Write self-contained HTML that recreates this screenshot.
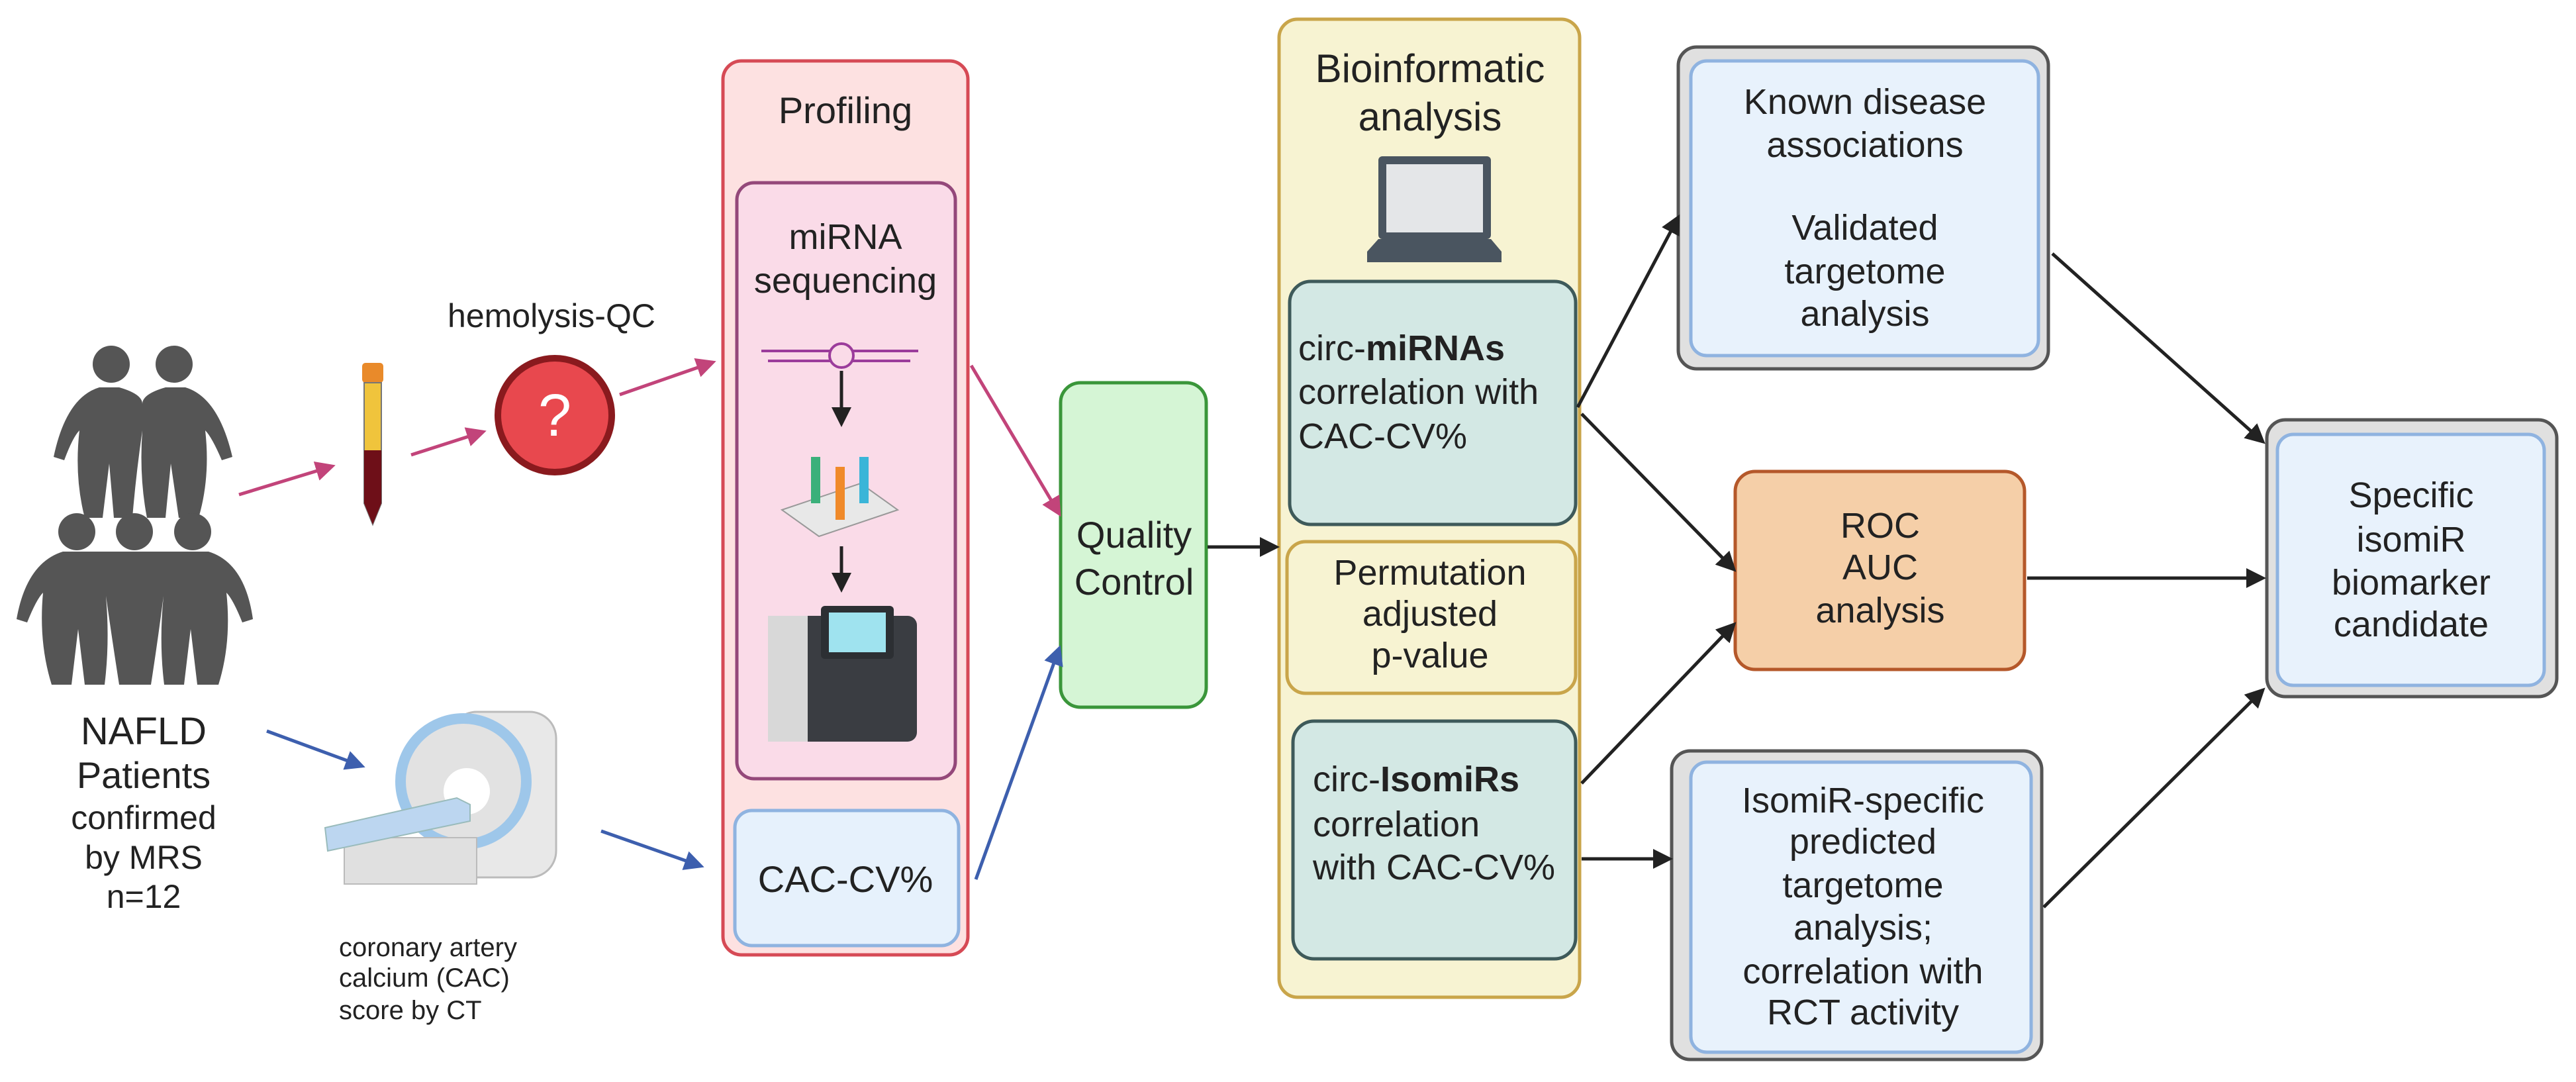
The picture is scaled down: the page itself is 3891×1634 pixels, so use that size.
<!DOCTYPE html>
<html><head><meta charset="utf-8"><style>
html,body{margin:0;padding:0;background:#fff}
svg{display:block}
text{font-family:"Liberation Sans",sans-serif;fill:#222}
</style></head><body>
<svg width="3891" height="1634" viewBox="0 0 3891 1634" xmlns="http://www.w3.org/2000/svg">
<defs>
<marker id="ap" markerWidth="6" markerHeight="6" refX="5" refY="3" orient="auto" markerUnits="strokeWidth"><path d="M0,0 L6,3 L0,6 z" fill="#c2447a"/></marker>
<marker id="ab" markerWidth="6" markerHeight="6" refX="5" refY="3" orient="auto" markerUnits="strokeWidth"><path d="M0,0 L6,3 L0,6 z" fill="#3d5fae"/></marker>
<marker id="ak" markerWidth="6" markerHeight="6" refX="5" refY="3" orient="auto" markerUnits="strokeWidth"><path d="M0,0 L6,3 L0,6 z" fill="#222"/></marker>
</defs>

<!-- people -->
<g fill="#555">
<circle cx="168" cy="550" r="28"/><circle cx="263" cy="550" r="28"/>
<path d="M81,690 Q100,600 150,585 L180,585 Q215,595 215,610 Q215,595 250,585 L280,585 Q330,600 351,690 L335,695 Q320,660 310,650 Q318,720 300,782 L270,782 L258,700 L250,782 L222,782 Q210,720 215,650 Q205,720 200,782 L172,782 L165,700 L155,782 L128,782 Q112,720 120,650 Q110,660 97,695 z"/>
<circle cx="116" cy="803" r="28"/><circle cx="203" cy="803" r="28"/><circle cx="291" cy="803" r="28"/>
<path d="M25,935 Q40,850 95,833 L315,833 Q370,850 382,935 L366,940 Q352,905 342,895 Q350,970 330,1034 L298,1034 L288,950 L278,1034 L248,1034 Q240,970 247,900 Q238,970 228,1034 L180,1034 Q170,970 160,900 Q166,970 158,1034 L128,1034 L118,950 L108,1034 L78,1034 Q58,970 65,895 Q55,905 41,940 z"/>
</g>
<g text-anchor="middle">
<text x="217" y="1124" font-size="58">NAFLD</text>
<text x="217" y="1190" font-size="56">Patients</text>
<text x="217" y="1252" font-size="50">confirmed</text>
<text x="217" y="1312" font-size="50">by MRS</text>
<text x="217" y="1371" font-size="50">n=12</text>
</g>

<!-- tube -->
<rect x="547" y="548" width="32" height="30" rx="5" fill="#e98a2a"/>
<path d="M550,578 L576,578 L576,760 L563,792 L550,760 z" fill="#f0c43c" stroke="#777" stroke-width="2"/>
<path d="M550,680 L576,680 L576,760 L563,792 L550,760 z" fill="#6e0f18"/>

<!-- question -->
<circle cx="838" cy="627" r="86" fill="#e8484e" stroke="#8a1a1e" stroke-width="10"/>
<text x="838" y="658" font-size="90" text-anchor="middle" style="fill:#fff">?</text>
<text x="833" y="494" font-size="50" text-anchor="middle">hemolysis-QC</text>

<!-- CT scanner -->
<g>
<rect x="680" y="1075" width="160" height="250" rx="40" fill="#e8e8e8" stroke="#bbb" stroke-width="3"/>
<circle cx="700" cy="1180" r="95" fill="#e2e2e2" stroke="#9ec7ea" stroke-width="16"/>
<circle cx="705" cy="1195" r="35" fill="#fff"/>
<rect x="520" y="1265" width="200" height="70" fill="#e0e0e0" stroke="#bbb" stroke-width="2"/>
<path d="M491,1250 L690,1205 L710,1215 L710,1240 L495,1285 z" fill="#bcd6f0" stroke="#9bb" stroke-width="2"/>
</g>
<g font-size="40">
<text x="512" y="1444">coronary artery</text>
<text x="512" y="1490">calcium (CAC)</text>
<text x="512" y="1539">score by CT</text>
</g>

<!-- Profiling -->
<rect x="1092" y="92" width="370" height="1350" rx="28" fill="#fde1e1" stroke="#d64a55" stroke-width="5"/>
<text x="1277" y="186" font-size="56" text-anchor="middle">Profiling</text>
<rect x="1113" y="276" width="330" height="900" rx="26" fill="#fadbe8" stroke="#94487a" stroke-width="5"/>
<text x="1277" y="376" font-size="54" text-anchor="middle">miRNA</text>
<text x="1277" y="442" font-size="54" text-anchor="middle">sequencing</text>
<g stroke="#9b3c9b" stroke-width="4">
<line x1="1150" y1="530" x2="1387" y2="530"/><line x1="1160" y1="545" x2="1375" y2="545"/>
<circle cx="1271" cy="537" r="18" fill="#fadbe8"/>
</g>
<line x1="1271" y1="560" x2="1271" y2="640" stroke="#222" stroke-width="5" marker-end="url(#ak)"/>
<path d="M1181,770 L1300,730 L1356,770 L1237,810 z" fill="#e8e8e8" stroke="#999" stroke-width="2"/>
<rect x="1225" y="690" width="14" height="70" fill="#3ab07a"/><rect x="1262" y="705" width="14" height="80" fill="#f08a2a"/><rect x="1298" y="690" width="14" height="70" fill="#3ab5d8"/>
<line x1="1271" y1="825" x2="1271" y2="890" stroke="#222" stroke-width="5" marker-end="url(#ak)"/>
<rect x="1160" y="930" width="225" height="190" rx="14" fill="#3a3d42"/>
<rect x="1160" y="930" width="60" height="190" fill="#d8d8d8"/>
<rect x="1240" y="915" width="110" height="80" rx="6" fill="#2c2f33"/><rect x="1252" y="925" width="86" height="60" fill="#9fe3ef"/>
<rect x="1110" y="1224" width="338" height="204" rx="26" fill="#e6f1fc" stroke="#8fb3e0" stroke-width="5"/>
<text x="1277" y="1347" font-size="56" text-anchor="middle">CAC-CV%</text>

<!-- QC -->
<rect x="1602" y="578" width="220" height="490" rx="30" fill="#d5f5d5" stroke="#3a963a" stroke-width="5"/>
<text x="1713" y="827" font-size="56" text-anchor="middle">Quality</text>
<text x="1713" y="898" font-size="56" text-anchor="middle">Control</text>

<!-- Bioinformatic -->
<rect x="1932" y="29" width="454" height="1477" rx="28" fill="#f7f3d2" stroke="#c9a54a" stroke-width="5"/>
<text x="2160" y="124" font-size="60" text-anchor="middle">Bioinformatic</text>
<text x="2160" y="197" font-size="60" text-anchor="middle">analysis</text>
<rect x="2082" y="236" width="170" height="125" rx="6" fill="#4a5560"/>
<rect x="2094" y="248" width="146" height="103" fill="#e4e6e8"/>
<path d="M2065,380 L2082,361 L2252,361 L2268,380 L2268,396 L2065,396 z" fill="#4a5560"/>
<rect x="1948" y="425" width="432" height="367" rx="32" fill="#d3e8e4" stroke="#3e5a5a" stroke-width="5"/>
<text x="1961" y="544" font-size="54">circ-<tspan font-weight="bold">miRNAs</tspan></text>
<text x="1961" y="610" font-size="54">correlation with</text>
<text x="1961" y="677" font-size="54">CAC-CV%</text>
<rect x="1944" y="818" width="436" height="229" rx="28" fill="#f7f3d2" stroke="#c9a54a" stroke-width="5"/>
<text x="2160" y="883" font-size="54" text-anchor="middle">Permutation</text>
<text x="2160" y="945" font-size="54" text-anchor="middle">adjusted</text>
<text x="2160" y="1008" font-size="54" text-anchor="middle">p-value</text>
<rect x="1953" y="1089" width="427" height="359" rx="32" fill="#d3e8e4" stroke="#3e5a5a" stroke-width="5"/>
<text x="1983" y="1195" font-size="54">circ-<tspan font-weight="bold">IsomiRs</tspan></text>
<text x="1983" y="1263" font-size="54">correlation</text>
<text x="1983" y="1328" font-size="54">with CAC-CV%</text>

<!-- Known -->
<rect x="2535" y="71" width="559" height="486" rx="28" fill="#e0e0e0" stroke="#555" stroke-width="5"/>
<rect x="2554" y="92" width="525" height="445" rx="24" fill="#e8f2fc" stroke="#8fb3e0" stroke-width="5"/>
<g font-size="54" text-anchor="middle">
<text x="2817" y="172">Known disease</text>
<text x="2817" y="237">associations</text>
<text x="2817" y="362">Validated</text>
<text x="2817" y="428">targetome</text>
<text x="2817" y="492">analysis</text>
</g>

<!-- ROC -->
<rect x="2621" y="712" width="437" height="299" rx="30" fill="#f5cfa8" stroke="#b5582a" stroke-width="5"/>
<g font-size="54" text-anchor="middle">
<text x="2840" y="812">ROC</text><text x="2840" y="875">AUC</text><text x="2840" y="940">analysis</text>
</g>

<!-- IsomiR-specific -->
<rect x="2525" y="1134" width="559" height="466" rx="28" fill="#e0e0e0" stroke="#555" stroke-width="5"/>
<rect x="2554" y="1151" width="514" height="438" rx="24" fill="#e8f2fc" stroke="#8fb3e0" stroke-width="5"/>
<g font-size="54" text-anchor="middle">
<text x="2814" y="1227">IsomiR-specific</text>
<text x="2814" y="1289">predicted</text>
<text x="2814" y="1355">targetome</text>
<text x="2814" y="1419">analysis;</text>
<text x="2814" y="1485">correlation with</text>
<text x="2814" y="1547">RCT activity</text>
</g>

<!-- Specific -->
<rect x="3424" y="634" width="438" height="418" rx="28" fill="#e0e0e0" stroke="#555" stroke-width="5"/>
<rect x="3440" y="656" width="403" height="379" rx="24" fill="#e8f2fc" stroke="#8fb3e0" stroke-width="5"/>
<g font-size="54" text-anchor="middle">
<text x="3642" y="766">Specific</text><text x="3642" y="833">isomiR</text><text x="3642" y="898">biomarker</text><text x="3642" y="961">candidate</text>
</g>

<!-- arrows -->
<g stroke="#c2447a" stroke-width="5" fill="none">
<line x1="361" y1="747" x2="502" y2="704" marker-end="url(#ap)"/>
<line x1="621" y1="687" x2="730" y2="652" marker-end="url(#ap)"/>
<line x1="936" y1="596" x2="1077" y2="547" marker-end="url(#ap)"/>
<line x1="1467" y1="552" x2="1600" y2="776" marker-end="url(#ap)"/>
</g>
<g stroke="#3d5fae" stroke-width="5" fill="none">
<line x1="403" y1="1104" x2="547" y2="1157" marker-end="url(#ab)"/>
<line x1="908" y1="1255" x2="1059" y2="1308" marker-end="url(#ab)"/>
<line x1="1474" y1="1328" x2="1600" y2="979" marker-end="url(#ab)"/>
</g>
<g stroke="#222" stroke-width="5" fill="none">
<line x1="1824" y1="826" x2="1928" y2="826" marker-end="url(#ak)"/>
<line x1="2383" y1="615" x2="2535" y2="328" marker-end="url(#ak)"/>
<line x1="2389" y1="625" x2="2619" y2="860" marker-end="url(#ak)"/>
<line x1="2389" y1="1183" x2="2619" y2="943" marker-end="url(#ak)"/>
<line x1="2389" y1="1297" x2="2522" y2="1297" marker-end="url(#ak)"/>
<line x1="3100" y1="383" x2="3418" y2="667" marker-end="url(#ak)"/>
<line x1="3062" y1="873" x2="3418" y2="873" marker-end="url(#ak)"/>
<line x1="3087" y1="1370" x2="3418" y2="1042" marker-end="url(#ak)"/>
</g>
</svg>
</body></html>
